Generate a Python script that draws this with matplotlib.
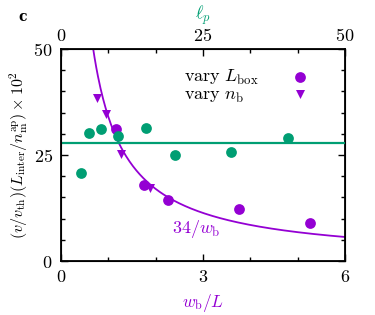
import numpy as np
import matplotlib
matplotlib.use('Agg')
from matplotlib import pyplot as plt
from matplotlib.ticker import MultipleLocator

plt.rcParams['mathtext.fontset'] = 'cm'
plt.rcParams['font.family'] = ['DejaVu Serif']

purple = '#9400D3'
green = '#009E73'

# green points: persistence length on top axis
lp_vals = [3.5, 5, 7, 10, 15, 20, 30, 40]
lp_y = [20.8, 30.2, 31.1, 29.6, 31.4, 25.0, 25.6, 29.0]
lp_mean = 27.8

# purple: vary L_box
box_x = [1.16, 1.75, 2.25, 3.75, 5.25]
box_y = [31.1, 18.0, 14.5, 12.3, 9.0]

# purple: vary n_b
nb_x = [0.77, 0.95, 1.16, 1.27, 1.89]
nb_y = [38.4, 34.7, 30.5, 25.3, 17.3]

fit_c = 34

fig = plt.figure(figsize=(3.75, 3.15), dpi=100)
ax = fig.add_axes([0.1627, 0.1714, 0.7573, 0.673])

xs = np.linspace(0.6, 6, 300)
ax.plot(xs, fit_c / xs, color=purple, lw=1.3, zorder=2)
ax.scatter(box_x, box_y, s=60, color=purple, marker='o', lw=0, zorder=3)
ax.scatter(nb_x, nb_y, s=42, color=purple, marker='v', lw=0, zorder=3)
ax.set_xlim(0, 6)
ax.set_ylim(0, 50)
ax.set_xticks([0, 3, 6])
ax.set_xticklabels([r'$0$', r'$3$', r'$6$'])
ax.set_yticks([0, 25, 50])
ax.set_yticklabels([r'$0$', r'$25$', r'$50$'])
ax.xaxis.set_minor_locator(MultipleLocator(1))
ax.yaxis.set_minor_locator(MultipleLocator(5))
ax.tick_params(which='both', direction='in', right=True, labelsize=13, width=1)
ax.tick_params(which='major', length=5)
ax.tick_params(which='minor', length=3)
ax.tick_params(axis='x', pad=5)
ax.tick_params(axis='y', pad=6)
ax.set_xlabel(r'$w_{\rm b}/L$', color=purple, fontsize=12.5, labelpad=4)
ax.set_ylabel(r'$(v/v_{\rm th})(L_{\rm inter}/n_{\rm m}^{\rm ap})\times10^2$',
              fontsize=11.5, labelpad=2)
ax.text(2.85, 6.5, r'$34/w_{\rm b}$', color=purple, fontsize=13, ha='center')

# legend drawn gnuplot-style
ax.text(2.6, 43.4, r'$\mathrm{vary}\ L_{\rm box}$', fontsize=13, va='center')
ax.text(2.6, 39.0, r'$\mathrm{vary}\ n_{\rm b}$', fontsize=13, va='center')
ax.scatter([5.04], [43.4], s=60, color=purple, marker='o', lw=0)
ax.scatter([5.04], [39.4], s=42, color=purple, marker='v', lw=0)

for sp in ax.spines.values():
    sp.set_linewidth(1.3)

ax2 = ax.twiny()
ax2.axhline(lp_mean, color=green, lw=1.6, zorder=2)
ax2.scatter(lp_vals, lp_y, s=60, color=green, lw=0, zorder=3)
ax2.set_xlim(0, 50)
ax2.set_xticks([0, 25, 50])
ax2.set_xticklabels([r'$0$', r'$25$', r'$50$'])
ax2.xaxis.set_minor_locator(MultipleLocator(25 / 3))
ax2.tick_params(which='both', direction='in', labelsize=13, width=1, pad=3)
ax2.tick_params(which='major', length=5)
ax2.tick_params(which='minor', length=3)
ax2.set_xlabel(r'$\ell_p$', color=green, fontsize=13, labelpad=6)

fig.text(0.05, 0.946, 'c', fontsize=10, fontweight='bold', va='center')

fig.savefig('out.png', dpi=100)
